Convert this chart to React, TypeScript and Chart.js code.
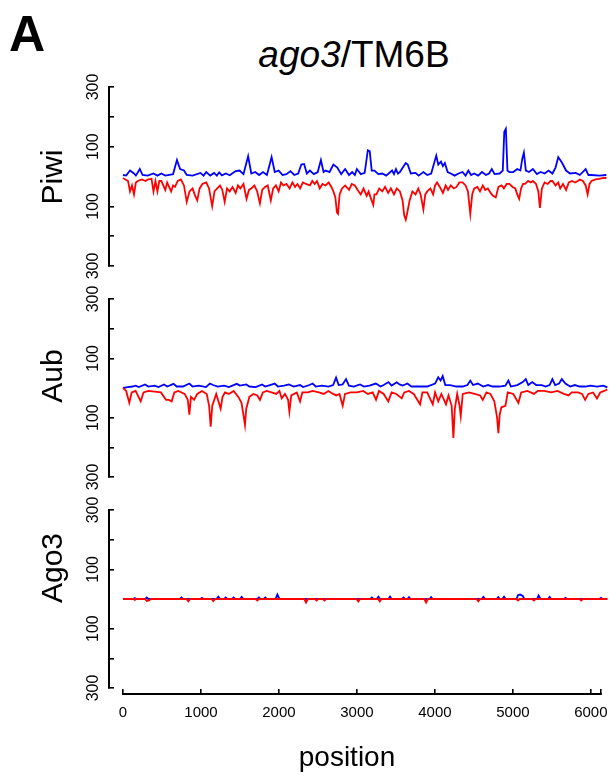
import React, { useEffect, useRef } from "react";
import { Chart, registerables } from "chart.js";

Chart.register(...registerables);

type Pt = [number, number];

// ---- data: [position, reads] ----
const PIWI_SENSE: Pt[] = [
  [0, 5], [40, 3], [89, 20], [139, 10], [163, 3], [213, 25], [248, 5], [312, 3], [386, 10], [436, 3],
  [485, 10], [535, 3], [634, 8], [683, 55], [723, 25], [772, 20], [807, 5], [881, 3], [980, 12], [1020, 3],
  [1054, 15], [1104, 3], [1153, 12], [1188, 3], [1218, 14], [1252, 4], [1302, 10], [1351, 4], [1426, 18], [1475, 20],
  [1525, 8], [1584, 68], [1624, 10], [1673, 15], [1723, 5], [1772, 15], [1822, 5], [1881, 65], [1921, 15], [1970, 20],
  [2020, 5], [2069, 8], [2119, 18], [2168, 5], [2218, 10], [2257, 40], [2292, 42], [2327, 10], [2366, 20], [2416, 8],
  [2465, 15], [2505, 55], [2539, 15], [2564, 20], [2614, 15], [2663, 40], [2713, 30], [2762, 8], [2812, 25], [2861, 5],
  [2901, 15], [2935, 5], [2960, 25], [3010, 8], [3059, 12], [3099, 88], [3123, 85], [3148, 20], [3183, 20], [3232, 8],
  [3282, 10], [3331, 3], [3406, 20], [3430, 8], [3455, 25], [3480, 10], [3505, 15], [3554, 35], [3579, 45], [3604, 40],
  [3643, 10], [3703, 12], [3742, 3], [3802, 15], [3851, 5], [3901, 10], [3965, 70], [3990, 40], [4025, 50], [4049, 35],
  [4074, 45], [4109, 15], [4148, 10], [4198, 3], [4247, 10], [4297, 15], [4336, 3], [4371, 20], [4406, 5], [4445, 10],
  [4495, 3], [4544, 15], [4594, 5], [4633, 10], [4668, 25], [4703, 8], [4767, 10], [4807, 20], [4826, 150], [4846, 160],
  [4866, 20], [4891, 15], [4940, 15], [4990, 25], [5030, 20], [5054, 60], [5074, 80], [5099, 20], [5139, 15], [5188, 25],
  [5238, 8], [5287, 15], [5336, 10], [5386, 20], [5435, 10], [5475, 30], [5509, 65], [5534, 55], [5559, 45], [5608, 20],
  [5658, 10], [5732, 12], [5782, 5], [5856, 25], [5891, 5], [5930, 5], [6029, 3], [6118, 5],
];

const PIWI_ANTISENSE: Pt[] = [
  [0, -5], [30, -10], [64, -15], [89, -50], [114, -30], [139, -60], [163, -20], [188, -15], [238, -10], [287, -15],
  [312, -10], [361, -8], [386, -50], [411, -15], [436, -50], [460, -15], [485, -15], [535, -45], [559, -20], [609, -50],
  [634, -30], [658, -35], [693, -15], [733, -10], [772, -30], [807, -85], [842, -50], [881, -40], [906, -60], [940, -80],
  [970, -40], [1005, -25], [1054, -20], [1089, -40], [1129, -100], [1158, -50], [1193, -40], [1228, -30], [1257, -45], [1287, -85],
  [1317, -40], [1351, -50], [1386, -35], [1426, -55], [1455, -30], [1485, -40], [1525, -25], [1564, -75], [1594, -45], [1624, -40],
  [1663, -30], [1698, -50], [1733, -90], [1762, -45], [1797, -35], [1832, -30], [1871, -80], [1901, -40], [1936, -30], [1970, -50],
  [2000, -20], [2030, -30], [2069, -25], [2109, -40], [2144, -20], [2178, -35], [2208, -25], [2242, -40], [2277, -20], [2317, -25],
  [2366, -30], [2396, -15], [2426, -25], [2455, -15], [2490, -40], [2525, -25], [2564, -30], [2604, -20], [2638, -35], [2663, -50],
  [2688, -70], [2708, -120], [2722, -125], [2742, -60], [2772, -40], [2812, -30], [2861, -45], [2896, -25], [2935, -30], [2970, -45],
  [3010, -60], [3045, -40], [3084, -65], [3109, -50], [3133, -70], [3168, -95], [3183, -60], [3208, -60], [3243, -40], [3282, -50],
  [3317, -35], [3356, -55], [3391, -40], [3430, -60], [3465, -40], [3505, -50], [3539, -80], [3559, -130], [3579, -145], [3599, -120],
  [3628, -80], [3663, -50], [3703, -60], [3737, -40], [3767, -60], [3802, -110], [3826, -60], [3851, -50], [3891, -40], [3925, -60],
  [3950, -30], [3975, -20], [4010, -35], [4049, -55], [4084, -30], [4114, -45], [4148, -30], [4188, -40], [4222, -35], [4257, -20],
  [4297, -20], [4336, -30], [4366, -50], [4396, -125], [4420, -60], [4445, -40], [4485, -35], [4519, -50], [4554, -30], [4584, -45],
  [4618, -40], [4653, -55], [4683, -65], [4718, -70], [4752, -35], [4792, -30], [4821, -40], [4856, -25], [4891, -25], [4931, -35],
  [4965, -40], [4990, -60], [5014, -75], [5039, -40], [5064, -25], [5089, -25], [5128, -15], [5163, -20], [5188, -15], [5228, -25],
  [5257, -50], [5277, -105], [5302, -40], [5336, -20], [5376, -25], [5411, -15], [5435, -15], [5475, -30], [5509, -20], [5534, -40],
  [5569, -25], [5608, -45], [5643, -20], [5683, -15], [5722, -20], [5757, -15], [5782, -10], [5821, -15], [5856, -30], [5881, -60],
  [5905, -25], [5930, -15], [5980, -10], [6029, -8], [6079, -5], [6118, -5],
];

const AUB_SENSE: Pt[] = [
  [0, 0], [60, 3], [120, 5], [160, 8], [200, 3], [280, 12], [320, 5], [400, 8], [450, 3], [520, 12],
  [560, 5], [640, 14], [680, 5], [760, 5], [840, 15], [880, 5], [960, 8], [1050, 3], [1100, 15], [1140, 10],
  [1200, 5], [1280, 8], [1340, 3], [1440, 14], [1480, 8], [1560, 12], [1600, 5], [1680, 3], [1760, 12], [1800, 5],
  [1860, 10], [1920, 15], [1960, 5], [2040, 8], [2100, 12], [2160, 5], [2240, 10], [2280, 3], [2360, 10], [2400, 15],
  [2440, 5], [2520, 8], [2600, 5], [2660, 10], [2697, 35], [2730, 10], [2780, 12], [2823, 30], [2860, 8], [2920, 5],
  [3000, 12], [3050, 5], [3120, 8], [3200, 15], [3260, 5], [3300, 10], [3360, 20], [3400, 8], [3465, 19], [3500, 12],
  [3540, 8], [3600, 15], [3650, 5], [3730, 5], [3850, 5], [3950, 15], [3990, 36], [4020, 25], [4046, 40], [4080, 10],
  [4140, 10], [4220, 5], [4300, 5], [4360, 10], [4396, 25], [4430, 10], [4490, 15], [4560, 5], [4620, 10], [4680, 5],
  [4760, 5], [4840, 8], [4878, 25], [4910, 5], [4990, 10], [5060, 20], [5098, 30], [5130, 10], [5180, 20], [5230, 10],
  [5300, 10], [5350, 5], [5400, 10], [5435, 30], [5470, 10], [5520, 15], [5554, 30], [5600, 15], [5660, 5], [5720, 10],
  [5780, 5], [5850, 5], [5920, 8], [6000, 5], [6080, 8], [6130, 2],
];

const AUB_ANTISENSE: Pt[] = [
  [0, 0], [40, -10], [80, -50], [110, -15], [160, -10], [224, -45], [260, -15], [320, -10], [400, -12], [480, -15],
  [545, -40], [580, -40], [616, -45], [650, -15], [700, -10], [780, -20], [820, -40], [840, -90], [860, -30], [900, -40],
  [940, -20], [1000, -10], [1060, -20], [1090, -60], [1110, -130], [1130, -60], [1180, -20], [1236, -70], [1260, -30], [1291, -15],
  [1340, -20], [1400, -10], [1460, -30], [1500, -50], [1530, -100], [1544, -125], [1560, -70], [1600, -30], [1650, -20], [1700, -25],
  [1734, -40], [1770, -15], [1820, -10], [1880, -15], [1940, -20], [1980, -10], [2009, -35], [2050, -20], [2090, -40], [2106, -80],
  [2130, -25], [2200, -15], [2241, -45], [2270, -15], [2340, -15], [2400, -10], [2480, -15], [2540, -20], [2600, -10], [2660, -20],
  [2700, -25], [2740, -20], [2781, -60], [2810, -20], [2880, -15], [2960, -15], [3040, -10], [3100, -20], [3160, -15], [3203, -40],
  [3240, -10], [3300, -20], [3358, -45], [3400, -15], [3460, -20], [3528, -35], [3560, -15], [3620, -10], [3680, -20], [3760, -55],
  [3790, -15], [3850, -15], [3921, -55], [3950, -15], [3990, -45], [4030, -20], [4088, -55], [4120, -25], [4160, -60], [4182, -168],
  [4200, -70], [4230, -20], [4260, -60], [4275, -95], [4300, -20], [4380, -15], [4450, -20], [4520, -25], [4554, -40], [4600, -15],
  [4650, -20], [4700, -45], [4735, -100], [4751, -152], [4768, -90], [4790, -65], [4840, -60], [4870, -15], [4940, -20], [5005, -50],
  [5040, -15], [5120, -10], [5200, -20], [5250, -10], [5330, -10], [5420, -15], [5500, -10], [5580, -20], [5639, -25], [5680, -15],
  [5760, -15], [5810, -20], [5849, -40], [5890, -20], [5950, -15], [5999, -35], [6040, -15], [6090, -10], [6130, -5],
];

const AGO3_SENSE: Pt[] = [
  [0, 0], [130, 0], [150, 3], [170, 0], [280, 0], [300, 5], [320, 0], [720, 0], [740, 5], [760, 0],
  [980, 0], [1000, 4], [1020, 0], [1180, 0], [1207, 8], [1230, 0], [1280, 0], [1300, 5], [1320, 0], [1380, 0],
  [1400, 5], [1420, 0], [1480, 0], [1502, 7], [1525, 0], [1700, 0], [1720, 5], [1740, 0], [1780, 0], [1800, 5],
  [1820, 0], [1930, 0], [1954, 15], [1980, 0], [3130, 0], [3150, 5], [3170, 0], [3210, 0], [3233, 8], [3255, 0],
  [3360, 0], [3380, 8], [3400, 0], [3530, 0], [3550, 5], [3570, 0], [3600, 0], [3620, 6], [3640, 0], [3880, 0],
  [3900, 6], [3920, 0], [4540, 0], [4562, 7], [4585, 0], [4730, 0], [4750, 6], [4770, 0], [4800, 0], [4823, 8],
  [4845, 0], [4980, 0], [5000, 13], [5026, 15], [5060, 10], [5080, 0], [5240, 0], [5260, 12], [5285, 0], [5380, 0],
  [5400, 7], [5420, 0], [5580, 0], [5600, 4], [5620, 0], [6030, 0], [6050, 4], [6070, 0], [6130, 0],
];

const AGO3_ANTISENSE: Pt[] = [
  [0, 0], [130, 0], [150, -3], [170, 0], [280, 0], [300, -7], [330, -5], [350, 0], [805, 0], [827, -8],
  [850, 0], [1120, 0], [1143, -7], [1165, 0], [1680, 0], [1700, -5], [1720, 0], [2295, 0], [2317, -12], [2340, 0],
  [2430, 0], [2450, -5], [2470, 0], [2530, 0], [2550, -5], [2570, 0], [2955, 0], [2979, -8], [3000, 0], [3230, 0],
  [3250, -8], [3270, 0], [3815, 0], [3836, -12], [3860, 0], [4475, 0], [4498, -8], [4520, 0], [4980, 0], [5000, -5],
  [5020, 0], [5180, 0], [5200, -5], [5220, 0], [5780, 0], [5800, -5], [5820, 0], [6130, 0],
];

const PANEL_NAMES = ["Piwi", "Aub", "Ago3"];
const Y_TICKS = [-300, -200, -100, 100, 200, 300];
const Y_TICK_LABELS = ["300", "", "100", "100", "", "300"];
const X_TICKS = [0, 1000, 2000, 3000, 4000, 5000, 6000, 6130];
const X_TICK_LABELS = ["0", "1000", "2000", "3000", "4000", "5000", "6000", ""];
const TITLE_ITALIC = "ago3";
const TITLE_REST = "/TM6B";
const X_TITLE = "position";
const PANEL_LETTER = "A";

const FONT = "'Liberation Sans', Arial, Helvetica, sans-serif";
const SENSE_COLOR = "#0000ff";
const ANTI_COLOR = "#ff0000";

type PanelProps = {
  sense: Pt[];
  anti: Pt[];
  top: number;
  height: number;
  padTop: number;
  padBottom: number;
};

function Panel({ sense, anti, top, height, padTop, padBottom }: PanelProps) {
  const ref = useRef<HTMLCanvasElement>(null);
  useEffect(() => {
    const chart = new Chart(ref.current as HTMLCanvasElement, {
      type: "line",
      data: {
        datasets: [
          { data: anti as any, borderColor: ANTI_COLOR, borderWidth: 1.8, pointRadius: 0, tension: 0, fill: false },
          { data: sense as any, borderColor: SENSE_COLOR, borderWidth: 1.8, pointRadius: 0, tension: 0, fill: false },
        ],
      },
      options: {
        responsive: false,
        animation: false,
        events: [],
        layout: { padding: { left: 0, right: 0, top: padTop, bottom: padBottom } },
        plugins: { legend: { display: false }, tooltip: { enabled: false }, title: { display: false } },
        scales: {
          x: { type: "linear", min: -177, max: 6240, display: false },
          y: {
            type: "linear",
            min: -300,
            max: 300,
            position: "left",
            afterFit: (s: any) => {
              s.width = 109;
            },
            afterBuildTicks: (s: any) => {
              s.ticks = Y_TICKS.map((v) => ({ value: v }));
            },
            ticks: {
              autoSkip: false,
              minRotation: 90,
              maxRotation: 90,
              crossAlign: "center",
              padding: 7,
              color: "#000",
              font: { size: 16, family: FONT },
              callback: (v: any) => {
                const i = Y_TICKS.indexOf(Number(v));
                return i >= 0 ? Y_TICK_LABELS[i] : "";
              },
            },
            grid: { drawOnChartArea: false, drawTicks: true, tickLength: -5, color: "#000", lineWidth: 1.6 },
            border: { display: true, color: "#000", width: 2 },
            title: { display: false },
          },
        },
      } as any,
    });
    return () => chart.destroy();
  }, []);
  return <canvas ref={ref} width={616} height={height} style={{ position: "absolute", left: 0, top }} />;
}

function XAxis() {
  const ref = useRef<HTMLCanvasElement>(null);
  useEffect(() => {
    const chart = new Chart(ref.current as HTMLCanvasElement, {
      type: "line",
      data: { datasets: [] },
      options: {
        responsive: false,
        animation: false,
        events: [],
        layout: { padding: { left: 123, right: 9, top: 0, bottom: 0 } },
        plugins: { legend: { display: false }, tooltip: { enabled: false } },
        scales: {
          x: {
            type: "linear",
            min: 0,
            max: 6130,
            position: "bottom",
            afterFit: (s: any) => {
              s.height = 83;
            },
            afterBuildTicks: (s: any) => {
              s.ticks = X_TICKS.map((v) => ({ value: v }));
            },
            ticks: {
              autoSkip: false,
              minRotation: 0,
              maxRotation: 0,
              padding: 15,
              color: "#000",
              font: { size: 15, family: FONT },
              callback: (v: any) => {
                const i = X_TICKS.indexOf(Number(v));
                return i >= 0 ? X_TICK_LABELS[i] : "";
              },
            },
            grid: { drawOnChartArea: false, drawTicks: true, tickLength: -5, color: "#000", lineWidth: 1.6 },
            border: { display: true, color: "#000", width: 2 },
          },
          y: { type: "linear", min: -300, max: 300, display: false },
        },
      } as any,
    });
    return () => chart.destroy();
  }, []);
  return <canvas ref={ref} width={616} height={97} style={{ position: "absolute", left: 0, top: 680 }} />;
}

function SideLabel({ text, cy }: { text: string; cy: number }) {
  return (
    <div
      style={{
        position: "absolute",
        left: 52,
        top: cy,
        transform: "translate(-50%, -50%) rotate(-90deg)",
        whiteSpace: "nowrap",
        fontFamily: FONT,
        fontSize: 30,
        lineHeight: 1,
        color: "#000",
      }}
    >
      {text}
    </div>
  );
}

export default function App() {
  return (
    <div style={{ position: "absolute", left: 0, top: 0, width: 616, height: 777, background: "#fff", overflow: "hidden" }}>
      <div
        style={{
          position: "absolute",
          left: 9,
          top: 9,
          fontFamily: FONT,
          fontWeight: "bold",
          fontSize: 50,
          lineHeight: 1,
          color: "#000",
        }}
      >
        {PANEL_LETTER}
      </div>
      <div
        style={{
          position: "absolute",
          left: 354,
          top: 36,
          transform: "translateX(-50%)",
          whiteSpace: "nowrap",
          fontFamily: FONT,
          fontSize: 37,
          lineHeight: 1,
          color: "#000",
        }}
      >
        <i>{TITLE_ITALIC}</i>
        {TITLE_REST}
      </div>
      <Panel sense={PIWI_SENSE} anti={PIWI_ANTISENSE} top={70} height={215} padTop={17} padBottom={19} />
      <Panel sense={AUB_SENSE} anti={AUB_ANTISENSE} top={282} height={215} padTop={17} padBottom={20} />
      <Panel sense={AGO3_SENSE} anti={AGO3_ANTISENSE} top={493} height={215} padTop={17} padBottom={20} />
      <SideLabel text={PANEL_NAMES[0]} cy={177} />
      <SideLabel text={PANEL_NAMES[1]} cy={376} />
      <SideLabel text={PANEL_NAMES[2]} cy={568} />
      <XAxis />
      <div
        style={{
          position: "absolute",
          left: 347,
          top: 743,
          transform: "translateX(-50%)",
          whiteSpace: "nowrap",
          fontFamily: FONT,
          fontSize: 28,
          lineHeight: 1,
          color: "#000",
        }}
      >
        {X_TITLE}
      </div>
    </div>
  );
}
